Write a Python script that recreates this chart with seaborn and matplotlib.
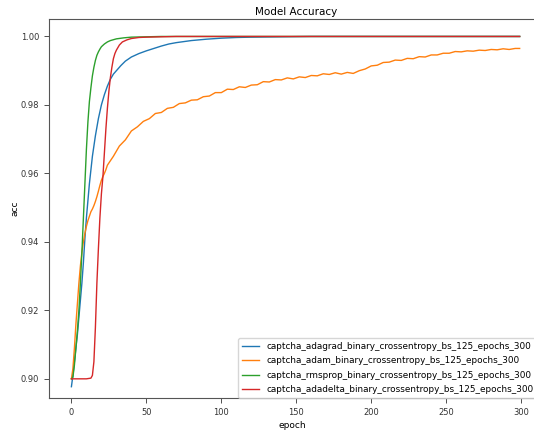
import numpy as np
import pandas as pd
import matplotlib
matplotlib.use("Agg")
import matplotlib.pyplot as plt
import seaborn as sns

# ---- data ----
adagrad_epochs = [0, 1, 2, 3, 4, 5, 6, 7, 8, 9, 10, 11, 12, 13, 14, 15, 16, 17, 18, 19,
                  20, 22, 24, 26, 28, 30, 33, 36, 40, 45, 50, 55, 60, 65, 70, 80, 90,
                  100, 110, 120, 140, 160, 200, 250, 299]
adagrad_acc = [0.8977, 0.9010, 0.9050, 0.9090, 0.9130, 0.9180, 0.9230, 0.9280, 0.9340,
               0.9410, 0.9470, 0.9520, 0.9570, 0.9610, 0.9650, 0.9680, 0.9710, 0.9735,
               0.9760, 0.9780, 0.9800, 0.9830, 0.9855, 0.9875, 0.9890, 0.9900, 0.9915,
               0.9928, 0.9940, 0.9950, 0.9958, 0.9965, 0.9972, 0.9978, 0.9982, 0.9988,
               0.9992, 0.9995, 0.9997, 0.9998, 0.9999, 1.0000, 1.0000, 1.0000, 1.0000]

adam_epochs = [0, 1, 2, 3, 4, 5, 6, 7, 8, 9, 10, 11, 12, 13, 14, 15, 16, 17, 18, 19,
               20, 21, 22, 23,
               24, 28, 32, 36, 40, 44, 48, 52, 56, 60, 64, 68, 72, 76, 80, 84, 88,
               92, 96, 100, 104, 108, 112, 116, 120, 124, 128, 132, 136, 140, 144,
               148, 152, 156, 160, 164, 168, 172, 176, 180, 184, 188, 192, 196, 200,
               204, 208, 212, 216, 220, 224, 228, 232, 236, 240, 244, 248, 252, 256,
               260, 264, 268, 272, 276, 280, 284, 288, 292, 296, 299]
adam_acc = [0.9000, 0.9030, 0.9090, 0.9160, 0.9220, 0.9280, 0.9330, 0.9370, 0.9400,
            0.9425, 0.9445, 0.9462, 0.9475, 0.9488, 0.9496, 0.9506, 0.9518, 0.9532,
            0.9548, 0.9565, 0.9580, 0.9591, 0.9600, 0.9611,
            0.9624, 0.9650, 0.9680, 0.9698, 0.9724, 0.9736, 0.9752, 0.9760, 0.9775,
            0.9778, 0.9790, 0.9793, 0.9804, 0.9806, 0.9814, 0.9815, 0.9824,
            0.9826, 0.9836, 0.9836, 0.9846, 0.9845, 0.9853, 0.9851, 0.9858, 0.9859,
            0.9868, 0.9867, 0.9874, 0.9873, 0.9879,
            0.9876, 0.9882, 0.9880, 0.9886, 0.9885, 0.9891, 0.9889, 0.9894, 0.9890,
            0.9895, 0.9892, 0.9900, 0.9905, 0.9914,
            0.9916, 0.9924, 0.9925, 0.9931, 0.9930, 0.9936, 0.9935, 0.9941, 0.9940,
            0.9946, 0.9946, 0.9951, 0.9951, 0.9956,
            0.9955, 0.9958, 0.9957, 0.9960, 0.9959, 0.9962, 0.9961, 0.9964, 0.9962,
            0.9965, 0.9965]

rmsprop_epochs = [0, 1, 2, 3, 4, 5, 6, 7, 8, 9, 10, 11, 12, 13, 14, 15, 16, 17, 18, 19,
                  20, 22, 24, 26, 30, 35, 40, 50, 60, 100, 200, 299]
rmsprop_acc = [0.9000, 0.9005, 0.9040, 0.9090, 0.9140, 0.9200, 0.9280, 0.9370, 0.9470,
               0.9570, 0.9670, 0.9750, 0.9810, 0.9850, 0.9885, 0.9910, 0.9930, 0.9945,
               0.9955, 0.9963, 0.9970, 0.9978, 0.9984, 0.9988, 0.9993, 0.9996, 0.9998,
               0.9999, 1.0000, 1.0000, 1.0000, 1.0000]

adadelta_epochs = [0, 1, 5, 10, 13, 14, 15, 16, 17, 18, 19, 20, 21, 22, 23, 24, 25, 26,
                   27, 28, 29, 30, 32, 34, 37, 40, 45, 50, 60, 70, 150, 299]
adadelta_acc = [0.9000, 0.9000, 0.9000, 0.9000, 0.9002, 0.9010, 0.9050, 0.9150, 0.9280,
                0.9380, 0.9470, 0.9540, 0.9590, 0.9660, 0.9730, 0.9790, 0.9840, 0.9880,
                0.9910, 0.9935, 0.9950, 0.9960, 0.9975, 0.9984, 0.9990, 0.9994, 0.9997,
                0.9998, 0.9999, 1.0000, 1.0000, 1.0000]

run_names = ["captcha_adagrad_binary_crossentropy_bs_125_epochs_300",
             "captcha_adam_binary_crossentropy_bs_125_epochs_300",
             "captcha_rmsprop_binary_crossentropy_bs_125_epochs_300",
             "captcha_adadelta_binary_crossentropy_bs_125_epochs_300"]
run_colors = ["#1f77b4", "#ff7f0e", "#2ca02c", "#d62728"]

# long table for seaborn
frames = []
for name, ep, acc in zip(run_names,
                         [adagrad_epochs, adam_epochs, rmsprop_epochs, adadelta_epochs],
                         [adagrad_acc, adam_acc, rmsprop_acc, adadelta_acc]):
    frames.append(pd.DataFrame({"epoch": ep, "acc": acc, "run": name}))
df = pd.concat(frames, ignore_index=True)

plt.rcParams['font.family'] = ['DejaVu Sans']

fig = plt.figure(figsize=(5.34, 4.36), dpi=100)
# reference is cropped on the right: axes reach the figure edge, no right spine
ax = fig.add_axes([49 / 534, 38 / 436, 487 / 534, 379 / 436])

sns.lineplot(data=df, x="epoch", y="acc", hue="run", hue_order=run_names,
             palette=run_colors, linewidth=1.0, ax=ax, estimator=None, sort=False)

ax.set_xlim(-14.95, 309.9)
ax.set_ylim(0.8944, 1.0051)
ax.set_xticks([0, 50, 100, 150, 200, 250, 300])
ax.set_yticks([0.90, 0.92, 0.94, 0.96, 0.98, 1.00])
ax.set_yticklabels(["0.90", "0.92", "0.94", "0.96", "0.98", "1.00"])
ax.tick_params(labelsize=6, length=3.5, width=0.6, pad=3.5, colors="#333333")
for sp in ax.spines.values():
    sp.set_linewidth(0.8)
    sp.set_color("#555555")
ax.spines["right"].set_visible(False)

# original axes was wider than the crop, keep title at its centre
ax.set_title("Model Accuracy", fontsize=7.5, pad=3, x=0.507)
ax.set_xlabel("epoch", fontsize=6.5, labelpad=3)
ax.set_ylabel("acc", fontsize=6.5, labelpad=1)

ax.legend(loc="lower right", bbox_to_anchor=(1.004, 0.0), borderaxespad=0,
          fontsize=6.4, frameon=True, framealpha=0.8,
          handlelength=1.9, handletextpad=0.9, borderpad=0.45, labelspacing=0.6)

fig.savefig("out.png", dpi=100)
